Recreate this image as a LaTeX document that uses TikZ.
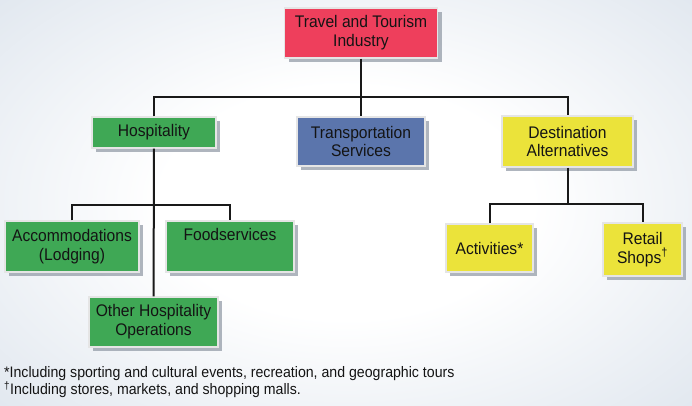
\documentclass[tikz,border=0pt]{standalone}
\usepackage{fontspec}
\setmainfont{Liberation Sans}[FakeStretch=0.93]
\usetikzlibrary{
  shadows,
  calc
}

\definecolor{tourred}{HTML}{EE3F5C}
\definecolor{hospgreen}{HTML}{3FA855}
\definecolor{transblue}{HTML}{5B75AC}
\definecolor{destyellow}{HTML}{EBE33A}
\definecolor{bgblue}{HTML}{D0DAE6}
\definecolor{shadowgray}{HTML}{8E97A3}
\definecolor{inktext}{HTML}{141414}

\pgfdeclareradialshading{bgglow}{\pgfpoint{0bp}{0bp}}{%
  color(0bp)=(white); color(12bp)=(white); color(42bp)=(bgblue); color(100bp)=(bgblue)}

\begin{document}
\begin{tikzpicture}[x=1pt, y=-1pt,
    box/.style = {draw=white!90!black, line width=1.2pt, align=center, inner sep=0pt,
      text=inktext, font=\fontsize{16.8}{18.8}\selectfont,
      drop shadow={shadow xshift=4pt, shadow yshift=-4pt, fill=shadowgray, opacity=0.7}},
    link/.style = {line width=2pt, black!90}]
    % background
    \useasboundingbox (0,0) rectangle (692,405);
    \shade[shading=bgglow] (-40,-40) rectangle (732,445);

    % boxes
    \node[box,fill=tourred,minimum width=153pt,minimum height=50pt] (travel) at (361,33) {Travel and Tourism\\Industry};
    \node[box,fill=hospgreen,minimum width=124pt,minimum height=31pt] (hosp) at (154,132.5) {Hospitality};
    \node[box,fill=transblue,minimum width=128pt,minimum height=49pt] (trans) at (361,141.5) {Transportation\\Services};
    \node[box,fill=destyellow,minimum width=131pt,minimum height=51pt] (dest) at (567.5,141.5) {Destination\\Alternatives};
    \node[box,fill=hospgreen,minimum width=134pt,minimum height=51pt] (accom) at (72,246.5) {Accommodations\\(Lodging)};
    \node[box,fill=hospgreen,minimum width=128pt,minimum height=51pt] (food) at (230,246.5) {Foodservices\\\strut};
    \node[box,fill=hospgreen,minimum width=129pt,minimum height=50pt] (other) at (153.5,322) {Other Hospitality\\Operations};
    \node[box,fill=destyellow,minimum width=87pt,minimum height=48pt] (activ) at (489.5,248) {Activities*};
    \node[box,fill=destyellow,minimum width=79pt,minimum height=53pt] (retail) at (642.5,249.5) {Retail\\Shops\textsuperscript{\textdagger}};

    % branch points
    \coordinate (top) at (361,97);
    \coordinate (hbr) at (153,205);
    \coordinate (dbr) at (567.5,204);

    \draw[link] (travel) -- (top);
    \draw[link] (hosp.north) |- (top) -| (dest.north);
    \draw[link] (top) -- (trans);
    \draw[link] (hosp) -- (other);
    \draw[link] (accom.north) |- (hbr) -| (food.north);
    \draw[link] (dest) -- (dbr);
    \draw[link] (activ.north) |- (dbr) -| (retail.north);

    % footnotes
    \node[anchor=west,align=left,inner sep=0pt,text=inktext,font=\fontsize{15.2}{16}\selectfont] (notes) at (4,382.5)
      {*Including sporting and cultural events, recreation, and geographic tours\\
       \textsuperscript{\textdagger}Including stores, markets, and shopping malls.};
  \end{tikzpicture}
\end{document}
